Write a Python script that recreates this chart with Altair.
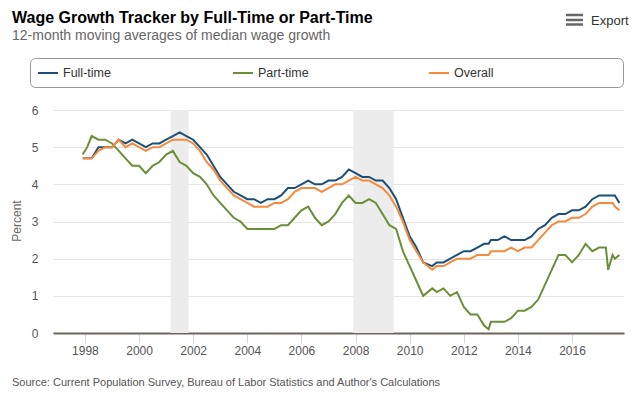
import altair as alt
import pandas as pd

FONT = "Liberation Sans"

# ---------------- data ----------------
dates = [
    "1997-12", "1998-02", "1998-04", "1998-07", "1998-10",
    "1999-01", "1999-04", "1999-07", "1999-10",
    "2000-01", "2000-04", "2000-07", "2000-10",
    "2001-01", "2001-04", "2001-07", "2001-10",
    "2002-01", "2002-04", "2002-07", "2002-10",
    "2003-01", "2003-04", "2003-07", "2003-10",
    "2004-01", "2004-04", "2004-07", "2004-10",
    "2005-01", "2005-04", "2005-07", "2005-10",
    "2006-01", "2006-04", "2006-07", "2006-10",
    "2007-01", "2007-04", "2007-07", "2007-10",
    "2008-01", "2008-04", "2008-07", "2008-10",
    "2009-01", "2009-04", "2009-07", "2009-10",
    "2010-01", "2010-04", "2010-07", "2010-11",
    "2011-01", "2011-04", "2011-07", "2011-10",
    "2012-01", "2012-04", "2012-07", "2012-10", "2012-12",
    "2013-01", "2013-04", "2013-07", "2013-10",
    "2014-01", "2014-04", "2014-07", "2014-10",
    "2015-01", "2015-04", "2015-07", "2015-10",
    "2016-01", "2016-04", "2016-07", "2016-10",
    "2017-01", "2017-04", "2017-05", "2017-07", "2017-08", "2017-10",
]

full_time = [
    4.7, 4.7, 4.7, 5.0, 5.0,
    5.0, 5.2, 5.1, 5.2,
    5.1, 5.0, 5.1, 5.1,
    5.2, 5.3, 5.4, 5.3,
    5.2, 5.0, 4.8, 4.5,
    4.2, 4.0, 3.8, 3.7,
    3.6, 3.6, 3.5, 3.6,
    3.6, 3.7, 3.9, 3.9,
    4.0, 4.1, 4.0, 4.0,
    4.1, 4.1, 4.2, 4.4,
    4.3, 4.2, 4.2, 4.1,
    4.1, 3.9, 3.6, 3.1,
    2.6, 2.3, 1.9, 1.8,
    1.9, 1.9, 2.0, 2.1,
    2.2, 2.2, 2.3, 2.4, 2.4,
    2.5, 2.5, 2.6, 2.5,
    2.5, 2.5, 2.6, 2.8,
    2.9, 3.1, 3.2, 3.2,
    3.3, 3.3, 3.4, 3.6,
    3.7, 3.7, 3.7, 3.7, 3.7, 3.5,
]

part_time = [
    4.8, 5.0, 5.3, 5.2, 5.2,
    5.1, 4.9, 4.7, 4.5,
    4.5, 4.3, 4.5, 4.6,
    4.8, 4.9, 4.6, 4.5,
    4.3, 4.2, 4.0, 3.7,
    3.5, 3.3, 3.1, 3.0,
    2.8, 2.8, 2.8, 2.8,
    2.8, 2.9, 2.9, 3.1,
    3.3, 3.4, 3.1, 2.9,
    3.0, 3.2, 3.5, 3.7,
    3.5, 3.5, 3.6, 3.5,
    3.2, 2.9, 2.8, 2.2,
    1.8, 1.4, 1.0, 1.2,
    1.1, 1.2, 1.0, 1.1,
    0.7, 0.5, 0.5, 0.2, 0.1,
    0.3, 0.3, 0.3, 0.4,
    0.6, 0.6, 0.7, 0.9,
    1.3, 1.7, 2.1, 2.1,
    1.9, 2.1, 2.4, 2.2,
    2.3, 2.3, 1.7, 2.1, 2.0, 2.1,
]

overall = [
    4.7, 4.7, 4.7, 4.9, 5.0,
    5.0, 5.2, 5.0, 5.1,
    5.0, 4.9, 5.0, 5.0,
    5.1, 5.2, 5.2, 5.2,
    5.1, 4.9, 4.6, 4.4,
    4.1, 3.9, 3.7, 3.6,
    3.5, 3.4, 3.4, 3.4,
    3.5, 3.5, 3.6, 3.8,
    3.9, 3.9, 3.9, 3.8,
    3.9, 4.0, 4.0, 4.1,
    4.2, 4.1, 4.1, 4.0,
    3.9, 3.7, 3.4, 3.0,
    2.5, 2.2, 1.9, 1.7,
    1.8, 1.8, 1.9, 2.0,
    2.0, 2.0, 2.1, 2.1, 2.1,
    2.2, 2.2, 2.2, 2.3,
    2.2, 2.3, 2.3, 2.5,
    2.7, 2.9, 3.0, 3.0,
    3.1, 3.1, 3.2, 3.4,
    3.5, 3.5, 3.5, 3.5, 3.4, 3.3,
]

series_names = ["Full-time", "Part-time", "Overall"]
series_colors = ["#1b4f77", "#6b8e38", "#f68a3c"]

recession_start = ["2001-03", "2007-12"]
recession_end = ["2001-11", "2009-06"]

x_ticks = [1998, 2000, 2002, 2004, 2006, 2008, 2010, 2012, 2014, 2016]
y_ticks = [0, 1, 2, 3, 4, 5, 6]


def to_year(s):
    y, m = s.split("-")
    return int(y) + (int(m) - 1) / 12.0


rows = []
for name, vals in zip(series_names, [full_time, part_time, overall]):
    for d, v in zip(dates, vals):
        rows.append({"t": to_year(d), "value": v, "series": name})
df = pd.DataFrame(rows)

rec = pd.DataFrame({"t": [to_year(s) for s in recession_start],
                    "end": [to_year(e) for e in recession_end]})

W, H = 571, 223
xscale = alt.Scale(domain=[1996.82, 2017.92], nice=False, zero=False)
yscale = alt.Scale(domain=[0, 6], nice=False, zero=True)

x_axis = alt.Axis(values=x_ticks, format="d", title=None, grid=False,
                  domainColor="#6f655b", domainWidth=2,
                  tickColor="#ccd6eb", tickSize=10, tickWidth=1,
                  labelColor="#555555", labelFontSize=12, labelFont=FONT,
                  labelPadding=2)
y_axis = alt.Axis(values=y_ticks, title=None, grid=True,
                  gridColor="#e6e6e6", domain=False, ticks=False,
                  labelColor="#555555", labelFontSize=12, labelFont=FONT,
                  labelPadding=15)

bands = alt.Chart(rec).mark_rect(color="#ececec").encode(
    x=alt.X("t:Q", scale=xscale, axis=x_axis),
    x2="end:Q",
    y=alt.value(0),
    y2=alt.value(H),
)

lines = alt.Chart(df).mark_line(strokeWidth=2).encode(
    x=alt.X("t:Q", scale=xscale, axis=x_axis),
    y=alt.Y("value:Q", scale=yscale, axis=y_axis),
    color=alt.Color("series:N", scale=alt.Scale(domain=series_names, range=series_colors),
                    legend=None),
    order=alt.Order("t:Q"),
)


def label(text, x, y, size, color, weight="normal", align="left",
          baseline="alphabetic", angle=0):
    return alt.Chart(alt.Data(values=[{"s": text}])).mark_text(
        align=align, baseline=baseline, fontSize=size, color=color,
        fontWeight=weight, font=FONT, angle=angle,
    ).encode(x=alt.value(x), y=alt.value(y), text="s:N")


def rule(x1, x2, y, color, width):
    return alt.Chart(alt.Data(values=[{"a": 1}])).mark_rule(
        color=color, strokeWidth=width).encode(
        x=alt.value(x1), x2=alt.value(x2), y=alt.value(y))


OX, OY = 53, 110  # plot origin in page pixels

title = label("Wage Growth Tracker by Full-Time or Part-Time", 12 - OX, 23 - OY,
              16, "#000000", weight="bold")
subtitle = label("12-month moving averages of median wage growth", 12 - OX, 40 - OY,
                 14, "#666666")
export = label("Export", 591 - OX, 25 - OY, 13, "#333333")
icon = (rule(566 - OX, 583 - OX, 15 - OY, "#666666", 2.5)
        + rule(566 - OX, 583 - OX, 20 - OY, "#666666", 2.5)
        + rule(566 - OX, 583 - OX, 24.5 - OY, "#666666", 2.5))

legend_box = alt.Chart(alt.Data(values=[{"a": 1}])).mark_rect(
    fill="white", stroke="#999999", strokeWidth=1, cornerRadius=5).encode(
    x=alt.value(30.5 - OX), x2=alt.value(623.5 - OX),
    y=alt.value(58.5 - OY), y2=alt.value(87.5 - OY))

legend_parts = []
for name, color, lx in zip(series_names, series_colors, [38, 233, 429]):
    legend_parts.append(rule(lx - OX, lx + 20 - OX, 73 - OY, color, 2))
    legend_parts.append(label(name, lx + 25 - OX, 73 - OY, 12.5, "#333333",
                              baseline="middle"))

ytitle = label("Percent", 17 - OX, 221 - OY, 12, "#666666", align="center",
               baseline="middle", angle=270)
source = label("Source: Current Population Survey, Bureau of Labor Statistics and Author's Calculations",
               12 - OX, 386 - OY, 11, "#555555")

chart = alt.layer(
    bands, lines, title, subtitle, export, icon, legend_box, *legend_parts,
    ytitle, source,
).properties(
    width=W, height=H,
    autosize=alt.AutoSizeParams(type="none"),
    padding={"left": OX, "top": OY, "right": 641 - OX - W, "bottom": 406 - OY - H},
    background="white",
).configure_view(stroke=None)

chart.save("out.html", embed_options={"renderer": "svg", "actions": False})
